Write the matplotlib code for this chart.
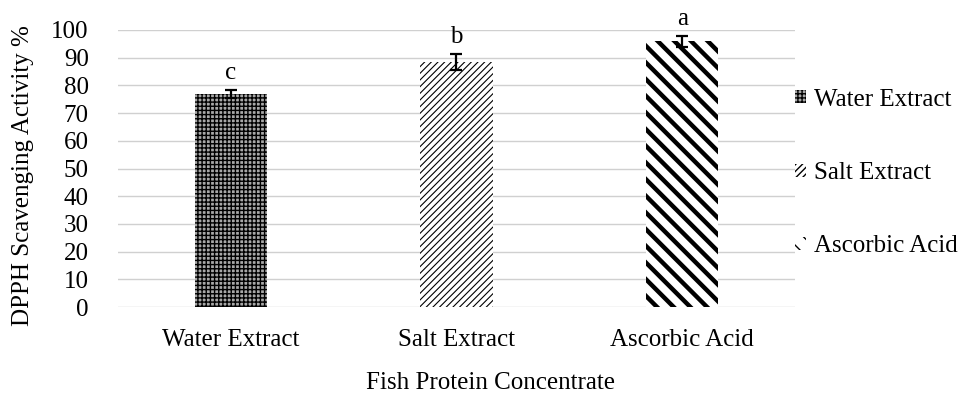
import matplotlib
matplotlib.use("Agg")
import matplotlib.pyplot as plt
from matplotlib.patches import Patch
import numpy as np

categories = ["Water Extract", "Salt Extract", "Ascorbic Acid"]
activity = [76.8, 88.5, 96.0]
errors = [1.5, 2.9, 2.0]
letters = ["c", "b", "a"]
y_ticks = [0, 10, 20, 30, 40, 50, 60, 70, 80, 90, 100]

hatches = ["++++", "/////", "\\\\"]
hatch_widths = [1.0, 0.8, 3.2]
face_colors = ["#a8a8a8", "white", "white"]

plt.rcParams["font.family"] = ["Liberation Serif", "DejaVu Serif"]
plt.rcParams["font.size"] = 18

fig = plt.figure(figsize=(9.62, 3.93), dpi=100)
ax = fig.add_axes([118 / 962, 1 - 307 / 393, (795 - 118) / 962, (307 - 30) / 393])

x = np.arange(len(categories))
for i, (xi, v) in enumerate(zip(x, activity)):
    with plt.rc_context({"hatch.linewidth": hatch_widths[i], "hatch.color": "black"}):
        b = ax.bar(xi, v, width=0.32, color=face_colors[i], edgecolor="black",
                   linewidth=0, hatch=hatches[i], zorder=3)
    for p in b:
        if hasattr(p, "set_hatch_linewidth"):
            p.set_hatch_linewidth(hatch_widths[i])

ax.errorbar(x, activity, yerr=errors, fmt="none", ecolor="black",
            elinewidth=1.6, capsize=4.5, capthick=1.6, zorder=4)

for xi, v, e, t in zip(x, activity, errors, letters):
    ax.text(xi, v + e + 6, t, ha="center", va="center", fontsize=18, clip_on=False)

ax.set_xlim(-0.5, 2.5)
ax.set_ylim(0, 100)
ax.set_yticks(y_ticks)
ax.set_xticks(x)
ax.set_xticklabels(categories)
ax.yaxis.grid(True, color="#d0d0d0", linewidth=1.0, zorder=0)
ax.set_axisbelow(True)
for s in ax.spines.values():
    s.set_visible(False)
ax.tick_params(axis="both", length=0)
ax.tick_params(axis="y", pad=21)
ax.tick_params(axis="x", pad=16)

fig.text(23 / 962, 1 - 176 / 393, "DPPH Scavenging Activity %", rotation=90,
         ha="center", va="center", fontsize=18)
fig.text(491 / 962, 1 - 383 / 393, "Fish Protein Concentrate",
         ha="center", va="center", fontsize=18)

handles = []
for i, c in enumerate(categories):
    with plt.rc_context({"hatch.linewidth": hatch_widths[i], "hatch.color": "black"}):
        h = Patch(facecolor=face_colors[i], edgecolor="black", linewidth=0,
                  hatch=hatches[i], label=c)
    if hasattr(h, "set_hatch_linewidth"):
        h.set_hatch_linewidth(hatch_widths[i])
    handles.append(h)

fig.legend(handles=handles, loc="center left",
           bbox_to_anchor=(783 / 962, 1 - 173 / 393), frameon=False,
           handlelength=0.42, handleheight=0.42, handletextpad=0.32,
           labelspacing=2.05, fontsize=18, borderpad=0)

fig.savefig("out.png", dpi=100)
